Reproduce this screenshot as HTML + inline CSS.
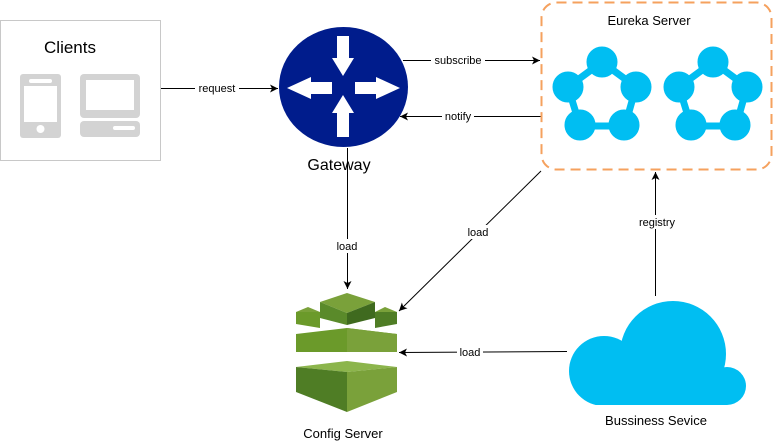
<!DOCTYPE html>
<html><head><style>
html,body{margin:0;padding:0;background:#fff;}
svg{display:block;}
text{font-family:"Liberation Sans",sans-serif;}
</style></head><body>
<svg width="773" height="444" viewBox="0 0 773 444" xmlns="http://www.w3.org/2000/svg">
<defs>
<marker id="a" markerWidth="10" markerHeight="10" refX="8" refY="5" orient="auto" markerUnits="userSpaceOnUse">
<path d="M0,1 L8,5 L0,9 L2,5 Z" fill="#000"/>
</marker>
<clipPath id="cc"><rect x="560" y="290" width="200" height="115"/></clipPath>
</defs>
<!-- Clients -->
<rect x="0.5" y="20.5" width="160" height="140" fill="#fff" stroke="#c8c8c8"/>
<text x="70" y="53" font-size="17" text-anchor="middle">Clients</text>
<rect x="20" y="74" width="41" height="64" rx="3" fill="#d3d3d3"/>
<rect x="24" y="86" width="33" height="36" fill="#fff"/>
<rect x="29" y="79" width="23" height="4" rx="2" fill="#fff"/>
<circle cx="40.5" cy="129" r="4" fill="#fff"/>
<rect x="80" y="74" width="60" height="44" rx="4" fill="#d3d3d3"/>
<rect x="86" y="80" width="48" height="30" fill="#fff"/>
<rect x="80" y="121" width="60" height="16" rx="4" fill="#d3d3d3"/>
<rect x="113" y="126" width="22" height="4" rx="2" fill="#fff"/>
<!-- request -->
<line x1="161" y1="88.5" x2="278" y2="88.5" stroke="#000" marker-end="url(#a)"/>
<rect x="195" y="81" width="44" height="14" fill="#fff"/>
<text x="217" y="92" font-size="11" text-anchor="middle">request</text>
<!-- Gateway -->
<ellipse cx="343.5" cy="87" rx="64.5" ry="60" fill="#001c8c"/>
<g fill="#fff">
<path d="M337,36 H349 V58 H354 L343,76 L332,58 H337 Z"/>
<path d="M337,137 H349 V113 H354 L343,95 L332,113 H337 Z"/>
<path d="M332,82 V94 H311 V99 L287,88 L311,77 V82 Z"/>
<path d="M355,82 V94 H376 V99 L400,88 L376,77 V82 Z"/>
</g>
<text x="339" y="170" font-size="16" text-anchor="middle">Gateway</text>
<!-- subscribe / notify -->
<line x1="403" y1="60.5" x2="540" y2="60.5" stroke="#000" marker-end="url(#a)"/>
<rect x="431" y="53" width="54" height="14" fill="#fff"/>
<text x="458" y="64" font-size="11" text-anchor="middle">subscribe</text>
<line x1="541" y1="116.5" x2="400" y2="116.5" stroke="#000" marker-end="url(#a)"/>
<rect x="442" y="109" width="32" height="14" fill="#fff"/>
<text x="458" y="120" font-size="11" text-anchor="middle">notify</text>
<!-- Eureka -->
<rect x="541.5" y="2.5" width="230" height="167" rx="15" fill="none" stroke="#f5a15e" stroke-width="2" stroke-dasharray="10,6"/>
<text x="649" y="25" font-size="13" text-anchor="middle">Eureka Server</text>
<g id="pent" fill="#00bef2" stroke="#00bef2">
<polyline points="602,62 636,87 625,126 580,126 568,87 602,62" fill="none" stroke-width="7"/>
<circle cx="602" cy="62" r="15"/><circle cx="636" cy="87" r="15"/><circle cx="624" cy="125" r="15"/><circle cx="580" cy="125" r="15"/><circle cx="568" cy="87" r="15"/>
</g>
<use href="#pent" x="111"/>
<!-- load from gateway -->
<line x1="347.5" y1="148" x2="347.5" y2="289" stroke="#000" marker-end="url(#a)"/>
<rect x="334" y="239" width="26" height="14" fill="#fff"/>
<text x="347" y="250" font-size="11" text-anchor="middle">load</text>
<!-- load from eureka -->
<line x1="541" y1="171" x2="399" y2="311" stroke="#000" marker-end="url(#a)"/>
<rect x="465" y="225" width="26" height="14" fill="#fff"/>
<text x="478" y="236" font-size="11" text-anchor="middle">load</text>
<!-- registry -->
<line x1="655.5" y1="296" x2="655.5" y2="172" stroke="#000" marker-end="url(#a)"/>
<rect x="636" y="215" width="42" height="14" fill="#fff"/>
<text x="657" y="226" font-size="11" text-anchor="middle">registry</text>
<!-- load from service -->
<line x1="567" y1="351.5" x2="399" y2="352.5" stroke="#000" marker-end="url(#a)"/>
<rect x="457" y="345" width="26" height="14" fill="#fff"/>
<text x="470" y="356" font-size="11" text-anchor="middle">load</text>
<!-- Config server icon -->
<polygon points="296,312 320,312 320,328 296,324" fill="#6b9a2a"/>
<polygon points="375,312 397,312 397,324 375,328" fill="#4f7d25"/>
<polygon points="296,312 308,307 320,312" fill="#7aa13a"/>
<polygon points="375,312 385,307 397,312" fill="#7aa13a"/>
<polygon points="320,302 347,293 375,302 347,313" fill="#7aa13a"/>
<polygon points="320,302 347,313 347,325 320,318" fill="#5a8a2a"/>
<polygon points="375,302 347,313 347,325 375,318" fill="#3f6a1f"/>
<polygon points="296,334 347,328 397,334 397,352 296,352" fill="#6b9a2a"/>
<polygon points="347,328 397,334 397,352 347,352" fill="#7aa13a"/>
<polygon points="296,367 347,361 397,367 347,372" fill="#8cb54c"/>
<polygon points="296,367 347,372 347,412 296,392" fill="#4f7d25"/>
<polygon points="397,367 347,372 347,412 397,392" fill="#7aa13a"/>
<text x="343" y="438" font-size="13" text-anchor="middle">Config Server</text>
<!-- cloud -->
<g fill="#00bef2" clip-path="url(#cc)">
<circle cx="604" cy="371" r="35"/>
<circle cx="673" cy="354" r="53"/>
<circle cx="727" cy="386" r="19"/>
<rect x="604" y="370" width="123" height="35"/>
</g>
<text x="656" y="425" font-size="13" text-anchor="middle">Bussiness Sevice</text>
</svg>
</body></html>
